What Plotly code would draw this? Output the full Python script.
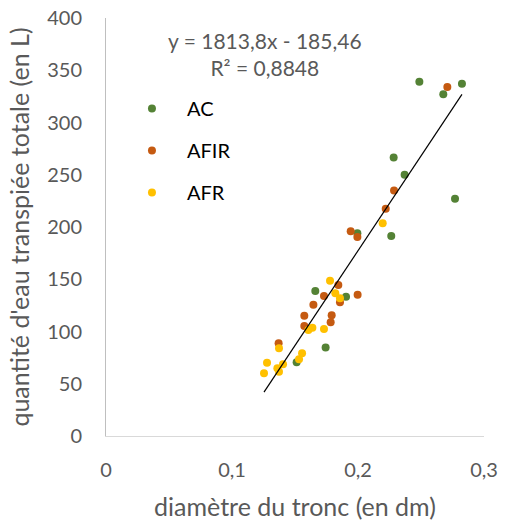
import plotly.graph_objects as go

# diamètre du tronc (dm) / quantité d'eau transpirée (L)
ac_x = [0.2487, 0.2825, 0.2677, 0.2283, 0.2370, 0.2770, 0.1995, 0.2264, 0.1661, 0.1905, 0.1743, 0.1513]
ac_y = [339.1, 337.0, 327.0, 266.6, 250.0, 227.0, 194.0, 191.4, 138.8, 133.3, 84.8, 70.5]

afir_x = [0.2709, 0.2286, 0.2220, 0.1942, 0.1995, 0.1844, 0.1730, 0.1997, 0.1857, 0.1646,
          0.1574, 0.1791, 0.1783, 0.1574, 0.1370]
afir_y = [334.0, 235.0, 217.5, 195.9, 190.4, 144.5, 134.0, 135.2, 128.0, 125.7,
          115.1, 115.5, 108.8, 105.3, 88.7]

afr_x = [0.2196, 0.1778, 0.1820, 0.1857, 0.1638, 0.1606, 0.1730, 0.1373, 0.1556, 0.1532,
         0.1278, 0.1405, 0.1360, 0.1373, 0.1254]
afr_y = [203.5, 148.6, 136.5, 131.7, 103.6, 101.4, 102.4, 83.9, 79.1, 73.4,
         70.2, 68.6, 64.8, 61.5, 60.0]

# courbe de tendance affichée
slope, intercept = 1813.8, -185.46

series = [
    ("AC", ac_x, ac_y, "#548235"),
    ("AFIR", afir_x, afir_y, "#C55A11"),
    ("AFR", afr_x, afr_y, "#FFC000"),
]

FONT = "Lato, 'Open Sans', sans-serif"
GREY = "#595959"

fig = go.Figure()
for name, xs, ys, color in series:
    fig.add_trace(go.Scatter(
        x=xs, y=ys, mode="markers", name=name, legendgroup=name,
        marker=dict(color=color, size=8),
    ))

all_x = ac_x + afir_x + afr_x
x0, x1 = min(all_x), max(all_x)
fig.add_trace(go.Scatter(
    x=[x0, x1], y=[slope * x0 + intercept, slope * x1 + intercept],
    mode="lines", line=dict(color="black", width=1.2), showlegend=False,
))

fig.add_annotation(
    xref="paper", yref="paper", x=0.42, y=0.914, yanchor="middle", showarrow=False,
    text="y = 1813,8x - 185,46<br>R² = 0,8848",
    font=dict(size=21, color=GREY, family=FONT), align="center",
)

fig.update_layout(
    width=505, height=522,
    margin=dict(l=106, r=21, t=18, b=86),
    paper_bgcolor="white", plot_bgcolor="white",
    separators=", ",
    font=dict(family=FONT, color=GREY),
    legend=dict(
        x=0.029, y=0.83, xanchor="left", yanchor="top",
        font=dict(size=20, color="black", family=FONT),
        itemwidth=60, tracegroupgap=13, bgcolor="rgba(0,0,0,0)",
    ),
    xaxis=dict(
        range=[0, 0.3], tickvals=[0, 0.1, 0.2, 0.3], ticktext=["0", "0,1", "0,2", "0,3"],
        showgrid=False, zeroline=False, showline=True, linecolor="#d9d9d9", linewidth=1,
        tickfont=dict(size=20, color=GREY), ticks="", ticklabelstandoff=16,
        ticklabeloverflow="allow", automargin=False,
        title=dict(text="diamètre du tronc (en dm)", font=dict(size=25, color=GREY), standoff=18),
    ),
    yaxis=dict(
        range=[0, 400], dtick=50,
        showgrid=False, zeroline=False, showline=True, linecolor="#bfbfbf", linewidth=1,
        tickfont=dict(size=20, color=GREY), ticks="", ticklabelstandoff=19,
        ticklabeloverflow="allow", automargin=False,
        title=dict(text="quantité d'eau transpiée totale (en L)", font=dict(size=25, color=GREY), standoff=10),
    ),
)

# pas de marge autour de la figure dans la page
fig.write_html(
    "out.html",
    config={"displayModeBar": False},
    post_script="document.body.style.margin = '0';",
)
